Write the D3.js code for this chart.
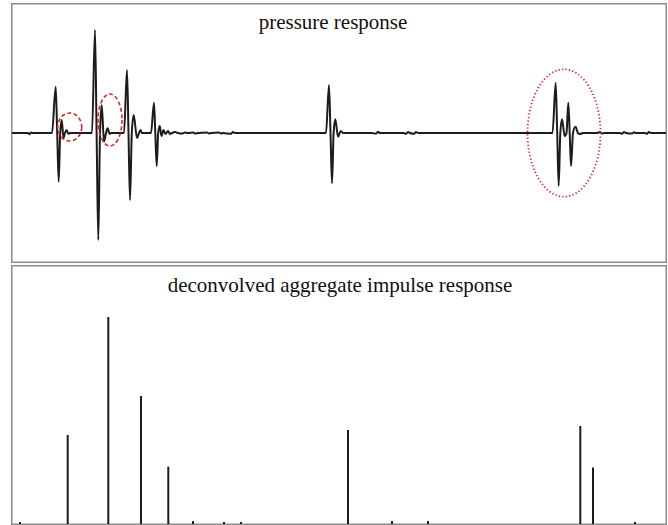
<!DOCTYPE html>
<html><head><meta charset="utf-8">
<script src="https://cdn.jsdelivr.net/npm/d3@7"></script>
<style>html,body{margin:0;padding:0;background:#fff;overflow:hidden}</style>
</head><body>
<svg id="chart" width="668" height="525"></svg>
<script>
// ---- data ----
// pressure response: sample index and pressure value
const pSample = [0,16,17.5,19,20.5,
 40,43.7,45.2,46.7,48.2,49.7,51.5,53,54.5,56.5,58,
 80,83,84.6,86.3,88,89.7,92,94,95.7,97.5,99,
 112,115,116.5,118,119.8,121.7,125,127,128.5,130,
 139,142,143.3,144.7,146.2,147.7,149.5,151.5,153.5,156,158,160,
 163,166,170,173,176,181,183,186,195,197,199,207,209,211,219,221,223,260,300,
 314,317,318.5,320,321.6,323.3,326,328.7,331,
 360,364,366,368,392,394,396,398,402,404,406,440,
 540.5,543.7,545.2,546.7,548.3,550,552.7,554.5,556.3,557.7,559,561,563.5,566,568,571,
 585,588,590,592,608,610,612,614,620,622,624,633,635,637,639,654];
const pValue = [0,0,-0.012,0.005,0,
 0,0.463,0,-0.487,0,0.13,-0.05,0,0.03,-0.01,0,
 0,1.03,0,-1.07,0,0.28,-0.087,0,0.047,-0.01,0,
 0,0.63,0,-0.67,0,0.18,-0.05,0,0.03,0,
 0,0.303,0,-0.33,0,0.07,-0.03,0.03,-0.01,0.02,-0.01,0,
 0.01,0,-0.006,0.004,0,0.006,-0.004,0,0.004,-0.004,0,0.004,-0.004,0,-0.008,0.01,0,0,0,
 0,0.48,0,-0.503,0,0.137,-0.037,0.02,0,
 0,-0.008,0.012,0,0,-0.01,0.01,0,-0.008,0.01,0,0,
 0,0.503,0,-0.53,0,0.137,-0.03,0,0.303,0,-0.33,0,0.063,0,-0.01,0,
 0,0.01,-0.006,0,0,-0.008,0.01,0,-0.006,0.008,0,0,-0.008,0.01,0,0];
// deconvolved impulses
const impSample = [8,55.7,96.3,129,156.3,181,212,229,336,380,416,568.3,581,623];
const impValue  = [0.01,0.431,1.003,0.62,0.278,0.015,0.01,0.01,0.455,0.015,0.015,0.475,0.274,0.01];
// annotation ellipses (center sample, center value, half-width in samples, half-height in value units)
const ellCx = [57.7, 98, 552];
const ellCy = [0.06, 0.13, 0];
const ellRx = [12, 12, 36.5];
const ellRy = [0.14, 0.26, 0.637];
const ellStyle = ["dashed","dashed","dotted"];
const titles = ["pressure response", "deconvolved aggregate impulse response"];

// ---- drawing ----
const svg = d3.select("#chart");
const x = d3.scaleLinear().domain([0, 654]).range([12, 666]);
const yTop = d3.scaleLinear().domain([-1.29, 1.29]).range([262, 4]);
const yBot = d3.scaleLinear().domain([0, 1.25]).range([524, 266]);

svg.append("rect").attr("width",668).attr("height",525).attr("fill","#fff");

// panel frames
svg.append("rect").attr("x",11.75).attr("y",3.75).attr("width",654.5).attr("height",258.5)
  .attr("fill","none").attr("stroke","#8c8c8c").attr("stroke-width",1.5);
svg.append("rect").attr("x",11.75).attr("y",265.75).attr("width",654.5).attr("height",258.5)
  .attr("fill","none").attr("stroke","#8c8c8c").attr("stroke-width",1.5);

// titles
const serif = "'Liberation Serif','Times New Roman',Times,serif";
svg.append("text").attr("x",333).attr("y",29).attr("text-anchor","middle")
  .style("font-family",serif).attr("font-size",21)
  .attr("fill","#111").text(titles[0]);
svg.append("text").attr("x",340).attr("y",292).attr("text-anchor","middle")
  .style("font-family",serif).attr("font-size",21)
  .attr("fill","#111").text(titles[1]);

// pressure response line
const pData = pSample.map((s,i)=>({s, v:pValue[i]}));
const line = d3.line().x(d=>x(d.s)).y(d=>yTop(d.v)).curve(d3.curveMonotoneX);
svg.append("path").datum(pData).attr("d",line).attr("fill","none")
  .attr("stroke","#1c1c1c").attr("stroke-width",2).attr("stroke-linejoin","round");

// ellipses
const pxPerSample = x(1)-x(0);
const pxPerUnit = yTop(0)-yTop(1);
ellCx.forEach((c,i)=>{
  svg.append("ellipse")
    .attr("cx",x(c)).attr("cy",yTop(ellCy[i]))
    .attr("rx",ellRx[i]*pxPerSample).attr("ry",ellRy[i]*pxPerUnit)
    .attr("fill","none")
    .attr("stroke", ellStyle[i]==="dashed" ? "#d42a2a" : "#e02a2a")
    .attr("stroke-width", ellStyle[i]==="dashed" ? 1.6 : 1.8)
    .attr("stroke-dasharray", ellStyle[i]==="dashed" ? "4,2.5" : "1.3,2.2");
});

// impulses
const imp = impSample.map((s,i)=>({s, v:impValue[i]}));
svg.append("g").selectAll("line").data(imp).join("line")
  .attr("x1",d=>x(d.s)).attr("x2",d=>x(d.s))
  .attr("y1",yBot(0)).attr("y2",d=>yBot(d.v))
  .attr("stroke","#1c1c1c").attr("stroke-width",2);
</script>
</body></html>
